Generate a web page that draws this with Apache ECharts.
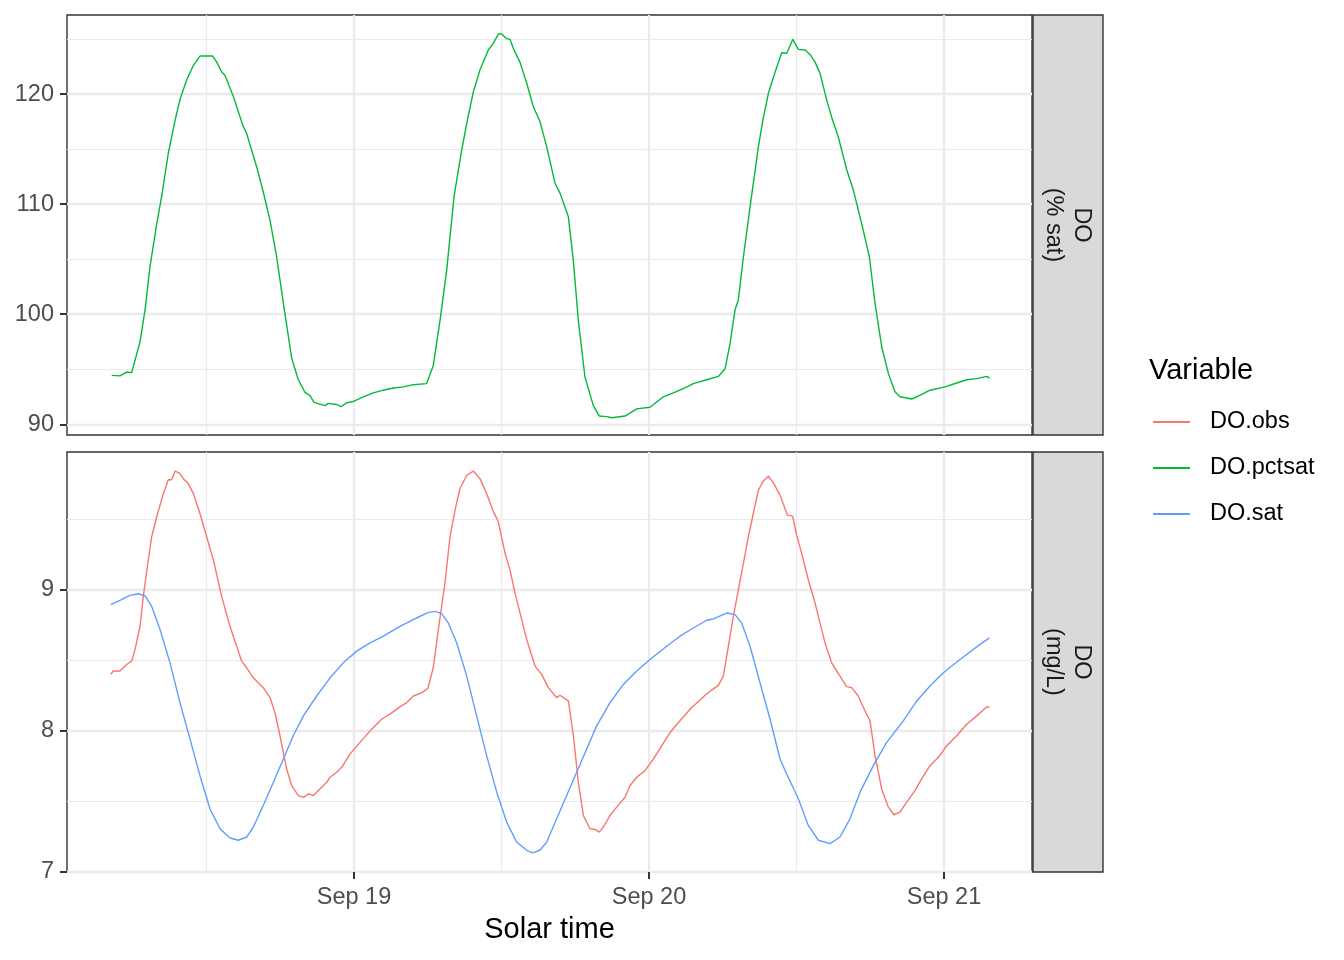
<!DOCTYPE html>
<html>
<head>
<meta charset="utf-8">
<title>DO</title>
<script src="https://cdn.jsdelivr.net/npm/echarts@6/dist/echarts.min.js"></script>
<style>
html, body { margin: 0; padding: 0; background: #fff; }
#main { width: 1344px; height: 960px; }
</style>
</head>
<body>
<div id="main"></div>
<script>
// x values are hours since Sep 18 00:00 (solar time)
var dayHours = [24, 48, 72];
var dayLabels = ['Sep 19', 'Sep 20', 'Sep 21'];
var noonHours = [12, 36, 60];
var pctTicks = [90, 100, 110, 120];
var pctMinor = [95, 105, 115, 125];
var mgTicks = [7, 8, 9];
var mgMinor = [7.5, 8.5, 9.5];

// DO (% sat)
var doPctsat = [
    [4.29,94.45],[4.96,94.4],[5.5,94.75],[5.91,94.7],[6.59,97.5],[7.0,100.4],[7.4,104.3],[7.95,108.2],
    [8.35,110.7],[8.89,114.6],[9.44,117.6],[9.84,119.5],[10.39,121.3],[10.93,122.6],[11.47,123.45],
    [12.0,123.45],[12.5,123.45],[12.83,122.9],[13.24,122.0],[13.5,121.7],[14.18,119.8],[14.94,117.2],
    [15.27,116.4],[16.08,113.4],[16.62,111.1],[17.17,108.5],[17.71,105.2],[18.25,101.0],[18.93,96.0],
    [19.47,94.05],[20.01,92.9],[20.42,92.6],[20.75,92.0],[21.64,91.7],[21.91,91.9],[22.6,91.8],
    [22.94,91.6],[23.4,91.95],[24.0,92.1],[24.76,92.5],[25.57,92.85],[26.38,93.1],[27.2,93.3],
    [28.01,93.4],[28.83,93.6],[29.91,93.7],[30.45,95.35],[31.0,99.45],[31.54,104.0],[32.14,110.7],
    [32.76,114.9],[33.22,117.6],[33.71,120.2],[34.25,122.2],[34.93,124.0],[35.33,124.6],[35.74,125.45],
    [36.02,125.45],[36.37,125.06],[36.69,124.97],[36.96,124.15],[37.5,122.9],[38.05,121.0],[38.59,118.85],
    [39.13,117.5],[39.68,115.2],[40.35,111.9],[40.76,111.0],[41.44,108.85],[41.84,104.9],[42.25,99.45],
    [42.79,94.3],[43.47,91.7],[43.96,90.75],[44.56,90.7],[44.97,90.6],[46.05,90.75],[47.0,91.4],
    [48.08,91.55],[49.17,92.5],[49.98,92.85],[50.79,93.25],[51.61,93.7],[52.7,94.05],[53.64,94.35],
    [54.19,95.05],[54.59,97.3],[55.0,100.4],[55.27,101.3],[55.68,105.2],[56.22,109.75],[56.9,115.2],
    [57.26,117.6],[57.72,120.1],[58.26,122.0],[58.8,123.75],[59.21,123.7],[59.7,124.97],[60.15,124.06],
    [60.7,124.0],[61.1,123.6],[61.51,122.9],[61.91,121.9],[62.46,119.45],[62.86,117.9],[63.4,116.1],
    [64.09,113.1],[64.62,111.3],[65.03,109.45],[65.44,107.6],[65.93,105.2],[66.39,101.0],[66.94,97.0],
    [67.48,94.6],[68.01,92.95],[68.43,92.5],[69.38,92.3],[70.06,92.65],[70.87,93.1],[72.09,93.4],
    [73.04,93.75],[73.85,94.05],[74.67,94.15],[75.48,94.35],[75.7,94.2]
];

// DO (mg/L), observed
var doObs = [
    [4.2,8.40],[4.42,8.424],[4.96,8.424],[5.5,8.47],[5.91,8.494],[6.18,8.576],[6.59,8.74],[6.86,8.953],
    [7.19,9.165],[7.54,9.376],[7.95,9.518],[8.49,9.682],[8.89,9.78],[9.16,9.78],[9.44,9.842],[9.79,9.828],
    [10.11,9.788],[10.52,9.753],[10.93,9.682],[11.47,9.541],[12.01,9.376],[12.56,9.212],[13.23,8.953],
    [13.91,8.741],[14.86,8.494],[15.27,8.447],[15.81,8.376],[16.62,8.306],[17.17,8.235],[17.57,8.129],
    [17.98,7.965],[18.52,7.729],[18.93,7.612],[19.47,7.541],[19.93,7.529],[20.28,7.553],[20.69,7.541],
    [21.23,7.588],[21.78,7.635],[22.05,7.671],[22.59,7.706],[23.0,7.741],[23.67,7.835],[24.49,7.918],
    [25.44,8.012],[26.25,8.082],[26.93,8.118],[27.74,8.17],[28.29,8.2],[28.83,8.247],[29.51,8.271],
    [30.0,8.299],[30.45,8.447],[30.86,8.718],[31.4,9.047],[31.81,9.376],[32.22,9.565],[32.62,9.718],
    [33.17,9.812],[33.71,9.842],[34.25,9.788],[34.79,9.682],[35.28,9.565],[35.74,9.482],[36.29,9.259],
    [36.69,9.141],[37.1,8.976],[37.51,8.835],[38.05,8.647],[38.73,8.459],[39.27,8.4],[39.81,8.306],
    [40.49,8.235],[40.76,8.252],[41.44,8.212],[41.85,7.965],[42.25,7.635],[42.66,7.4],[43.2,7.306],
    [43.61,7.301],[43.96,7.282],[44.29,7.318],[44.83,7.4],[45.37,7.459],[46.05,7.529],[46.46,7.612],
    [47.0,7.671],[47.68,7.718],[48.35,7.8],[49.03,7.894],[49.71,7.988],[50.52,8.071],[51.47,8.165],
    [52.15,8.219],[52.56,8.252],[53.1,8.289],[53.64,8.322],[54.05,8.388],[54.46,8.6],[54.86,8.812],
    [55.27,9.0],[55.68,9.188],[56.08,9.376],[56.49,9.541],[56.9,9.706],[57.3,9.772],[57.71,9.805],
    [58.12,9.758],[58.66,9.671],[59.26,9.529],[59.69,9.522],[60.01,9.388],[60.42,9.259],[60.96,9.071],
    [61.51,8.906],[61.91,8.765],[62.32,8.624],[62.86,8.482],[63.54,8.388],[64.08,8.313],[64.49,8.306],
    [65.03,8.247],[65.44,8.165],[65.98,8.071],[66.39,7.824],[66.93,7.588],[67.47,7.459],[67.93,7.405],
    [68.42,7.424],[68.96,7.494],[69.64,7.576],[70.18,7.659],[70.86,7.753],[71.54,7.812],[72.22,7.894],
    [73.03,7.965],[73.85,8.047],[74.66,8.106],[75.47,8.169],[75.69,8.169]
];

// DO (mg/L), saturation
var doSat = [
    [4.2,8.894],[4.96,8.925],[5.77,8.96],[6.45,8.972],[6.99,8.958],[7.54,8.882],[8.22,8.718],[9.03,8.482],
    [9.84,8.2],[10.66,7.941],[11.47,7.682],[12.28,7.447],[13.1,7.306],[13.91,7.24],[14.59,7.224],
    [15.27,7.247],[15.81,7.318],[16.62,7.471],[17.44,7.635],[18.25,7.8],[19.06,7.965],[19.88,8.106],
    [20.96,8.247],[22.05,8.376],[23.13,8.482],[24.22,8.565],[25.3,8.624],[26.39,8.671],[27.74,8.74],
    [29.1,8.8],[30.05,8.84],[30.59,8.847],[31.13,8.831],[31.67,8.765],[32.35,8.624],[33.17,8.388],
    [33.98,8.106],[34.79,7.824],[35.61,7.565],[36.42,7.353],[37.23,7.212],[38.05,7.153],[38.54,7.134],
    [39.13,7.153],[39.68,7.212],[40.49,7.376],[41.3,7.541],[42.12,7.706],[42.93,7.871],[43.74,8.035],
    [44.83,8.2],[45.91,8.329],[47.0,8.424],[48.08,8.506],[49.44,8.6],[50.52,8.671],[51.61,8.729],
    [52.69,8.784],[53.23,8.793],[54.32,8.835],[55.0,8.824],[55.54,8.765],[56.22,8.6],[57.03,8.341],
    [57.85,8.082],[58.66,7.8],[59.2,7.694],[60.15,7.518],[60.96,7.329],[61.78,7.224],[62.73,7.2],
    [63.54,7.247],[64.35,7.376],[65.17,7.565],[66.25,7.753],[67.34,7.918],[68.69,8.071],[69.78,8.212],
    [70.86,8.318],[71.95,8.412],[73.3,8.506],[74.66,8.595],[75.69,8.659]
];

var FONT = '"Liberation Sans", Arial, sans-serif';
var xMin = 0.65, xMax = 79.16;

function majorGrid(show) {
    return { show: show, lineStyle: { color: '#EBEBEB', width: 2.3 } };
}
function minorGrid() {
    return { show: true, lineStyle: { color: '#EBEBEB', width: 1.2 } };
}
function hidden(extra) {
    var a = {
        axisLine: { show: false },
        axisLabel: { show: false },
        axisTick: { show: false }
    };
    for (var k in extra) a[k] = extra[k];
    return a;
}

var myChart = echarts.init(document.getElementById('main'), null, { renderer: 'canvas' });

option = {
    animation: false,
    backgroundColor: '#fff',
    color: ['#F8766D', '#00BA38', '#619CFF'],
    grid: [
        { left: 67, top: 15, width: 965, height: 420, show: true, borderColor: '#333', borderWidth: 1.4, backgroundColor: 'transparent' },
        { left: 67, top: 452, width: 965, height: 420, show: true, borderColor: '#333', borderWidth: 1.4, backgroundColor: 'transparent' }
    ],
    xAxis: [
        hidden({ type: 'value', gridIndex: 0, min: xMin, max: xMax,
            axisTick: { show: false, customValues: dayHours }, splitLine: majorGrid(true) }),
        hidden({ type: 'value', gridIndex: 0, position: 'top', min: xMin, max: xMax,
            axisTick: { show: false, customValues: noonHours }, splitLine: minorGrid() }),
        {
            type: 'value', gridIndex: 1, min: xMin, max: xMax,
            axisLine: { show: false },
            axisTick: { show: true, length: 7, customValues: dayHours, lineStyle: { color: '#333', width: 2 } },
            axisLabel: {
                customValues: dayHours, margin: 14, color: '#4D4D4D', fontSize: 23.5, fontFamily: FONT,
                formatter: function (v) { return dayLabels[dayHours.indexOf(v)]; }
            },
            splitLine: majorGrid(true)
        },
        hidden({ type: 'value', gridIndex: 1, position: 'top', min: xMin, max: xMax,
            axisTick: { show: false, customValues: noonHours }, splitLine: minorGrid() })
    ],
    yAxis: [
        {
            type: 'value', gridIndex: 0, min: 89.03, max: 127.18,
            axisLine: { show: false },
            axisTick: { show: true, length: 7, customValues: pctTicks, lineStyle: { color: '#333', width: 2 } },
            axisLabel: { customValues: pctTicks, margin: 13, color: '#4D4D4D', fontSize: 23.5, fontFamily: FONT,
                         padding: [4, 0, 0, 0] },
            splitLine: majorGrid(true)
        },
        hidden({ type: 'value', gridIndex: 0, position: 'right', min: 89.03, max: 127.18,
            axisTick: { show: false, customValues: pctMinor }, splitLine: minorGrid() }),
        {
            type: 'value', gridIndex: 1, min: 6.999, max: 9.977,
            axisLine: { show: false },
            axisTick: { show: true, length: 7, customValues: mgTicks, lineStyle: { color: '#333', width: 2 } },
            axisLabel: { customValues: mgTicks, margin: 13, color: '#4D4D4D', fontSize: 23.5, fontFamily: FONT,
                         padding: [4, 0, 0, 0] },
            splitLine: majorGrid(true)
        },
        hidden({ type: 'value', gridIndex: 1, position: 'right', min: 6.999, max: 9.977,
            axisTick: { show: false, customValues: mgMinor }, splitLine: minorGrid() })
    ],
    legend: {
        orient: 'vertical',
        left: 1153,
        top: 409,
        padding: 0,
        icon: 'rect',
        itemWidth: 37,
        itemHeight: 2,
        itemGap: 20,
        selectedMode: false,
        textStyle: { fontSize: 23.5, lineHeight: 26, color: '#000', fontFamily: FONT, padding: [0, 0, 0, 15] },
        data: ['DO.obs', 'DO.pctsat', 'DO.sat']
    },
    series: [
        {
            name: 'DO.obs', type: 'line', xAxisIndex: 2, yAxisIndex: 2,
            showSymbol: false, symbol: 'none',
            lineStyle: { width: 1.4, color: '#F8766D' }, itemStyle: { color: '#F8766D' },
            data: doObs
        },
        {
            name: 'DO.pctsat', type: 'line', xAxisIndex: 0, yAxisIndex: 0,
            showSymbol: false, symbol: 'none',
            lineStyle: { width: 1.4, color: '#00BA38' }, itemStyle: { color: '#00BA38' },
            data: doPctsat
        },
        {
            name: 'DO.sat', type: 'line', xAxisIndex: 2, yAxisIndex: 2,
            showSymbol: false, symbol: 'none',
            lineStyle: { width: 1.4, color: '#619CFF' }, itemStyle: { color: '#619CFF' },
            data: doSat
        }
    ],
    graphic: [
        // facet strips
        { type: 'rect', shape: { x: 1033, y: 15, width: 70, height: 420 },
          style: { fill: '#D9D9D9', stroke: '#333', lineWidth: 1.4 } },
        { type: 'rect', shape: { x: 1033, y: 452, width: 70, height: 420 },
          style: { fill: '#D9D9D9', stroke: '#333', lineWidth: 1.4 } },
        { type: 'text', x: 1067, y: 225, rotation: -Math.PI / 2,
          style: { text: 'DO\n(% sat)', fontSize: 23.5, lineHeight: 28, fontFamily: FONT, fill: '#1A1A1A',
                   align: 'center', verticalAlign: 'middle' } },
        { type: 'text', x: 1067, y: 662, rotation: -Math.PI / 2,
          style: { text: 'DO\n(mg/L)', fontSize: 23.5, lineHeight: 28, fontFamily: FONT, fill: '#1A1A1A',
                   align: 'center', verticalAlign: 'middle' } },
        // axis title
        { type: 'text', x: 549.5, y: 930,
          style: { text: 'Solar time', fontSize: 29, fontFamily: FONT, fill: '#000',
                   align: 'center', verticalAlign: 'middle' } },
        // legend title
        { type: 'text', x: 1149, y: 371,
          style: { text: 'Variable', fontSize: 29, fontFamily: FONT, fill: '#000',
                   align: 'left', verticalAlign: 'middle' } }
    ]
};

myChart.setOption(option);
</script>
</body>
</html>
